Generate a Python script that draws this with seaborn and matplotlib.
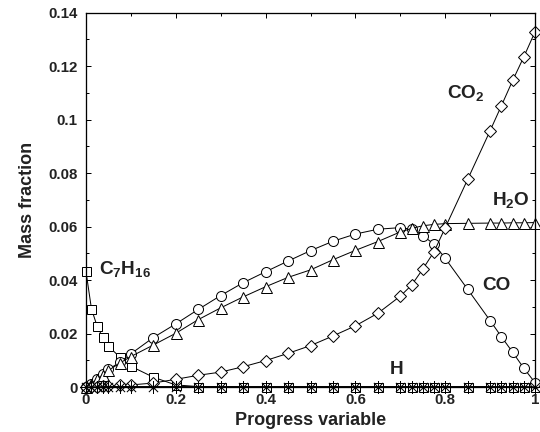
import numpy as np
import pandas as pd
import matplotlib
matplotlib.use("Agg")
import matplotlib.pyplot as plt
from matplotlib.path import Path
from matplotlib.ticker import MultipleLocator, FuncFormatter
import seaborn as sns

# Progress variable grid
progress = [0, 0.0125, 0.025, 0.0375, 0.05, 0.075, 0.1, 0.15, 0.2, 0.25, 0.3,
            0.35, 0.4, 0.45, 0.5, 0.55, 0.6, 0.65, 0.7, 0.725, 0.75, 0.775,
            0.8, 0.85, 0.9, 0.925, 0.95, 0.975, 1.0]

# Species mass fractions
c7h16 = [0.0435, 0.0292, 0.0228, 0.0186, 0.0153, 0.0113, 0.0078, 0.0037,
         0.0008, 0.0002, 0.0001, 0, 0, 0, 0, 0, 0, 0, 0, 0, 0, 0, 0, 0, 0,
         0, 0, 0, 0]
co = [0, 0.0012, 0.003, 0.0048, 0.0066, 0.0092, 0.0124, 0.0185, 0.0236,
      0.029, 0.0342, 0.039, 0.0431, 0.0471, 0.051, 0.0545, 0.0572, 0.059,
      0.0596, 0.059, 0.0566, 0.0534, 0.0481, 0.0365, 0.0248, 0.0188, 0.013,
      0.007, 0.0016]
h2o = [0, 0.0012, 0.003, 0.0045, 0.0062, 0.0089, 0.0114, 0.0157, 0.0201,
       0.0252, 0.0296, 0.0337, 0.0375, 0.041, 0.0438, 0.0476, 0.0511, 0.0544,
       0.058, 0.0593, 0.0603, 0.0608, 0.0611, 0.0612, 0.0613, 0.0613, 0.0614,
       0.0614, 0.0615]
co2 = [0, 0.0001, 0.0002, 0.0003, 0.0004, 0.0006, 0.0008, 0.0015, 0.0029,
       0.0044, 0.0056, 0.0076, 0.0099, 0.0126, 0.0155, 0.0191, 0.0229, 0.0276,
       0.034, 0.0381, 0.0441, 0.0506, 0.0596, 0.0777, 0.0959, 0.1052, 0.1146,
       0.1235, 0.1329]
h = [0, 0.0001, 0.0001, 0.0002, 0.0002, 0.0002, 0.0002, 0.0002, 0.0002,
     0.0002, 0.0002, 0.0002, 0.0002, 0.0002, 0.0002, 0.0002, 0.0002, 0.0002,
     0.0002, 0.0002, 0.0002, 0.0002, 0.0002, 0.0002, 0.0002, 0.0002, 0.0002,
     0.0002, 0.0001]

x_ticks = [0, 0.2, 0.4, 0.6, 0.8, 1.0]
y_ticks = [0, 0.02, 0.04, 0.06, 0.08, 0.10, 0.12, 0.14]

df = pd.DataFrame({"progress": progress, "C7H16": c7h16, "CO": co,
                   "H2O": h2o, "CO2": co2, "H": h})

sns.set_style("ticks")
plt.rcParams["font.family"] = ["Liberation Sans", "DejaVu Sans"]
plt.rcParams["font.weight"] = "bold"
plt.rcParams["mathtext.fontset"] = "custom"
plt.rcParams["mathtext.rm"] = "Liberation Sans:bold"
plt.rcParams["mathtext.bf"] = "Liberation Sans:bold"
plt.rcParams["mathtext.it"] = "Liberation Sans:bold"
plt.rcParams["mathtext.default"] = "bf"

fig = plt.figure(figsize=(7.5, 6), dpi=72)
ax = fig.add_axes([0.159, 0.104, 0.832, 0.867])

# eight-spoke asterisk marker
asterisk = Path(
    [(0, -1), (0, 1), (-1, 0), (1, 0), (-0.71, -0.71), (0.71, 0.71),
     (-0.71, 0.71), (0.71, -0.71)],
    [Path.MOVETO, Path.LINETO] * 4,
)

common = dict(color="black", linewidth=1.0, markerfacecolor="white",
              markeredgecolor="black", markeredgewidth=1.0, errorbar=None,
              sort=False, legend=False, ax=ax)

sns.lineplot(data=df, x="progress", y="C7H16", marker="s", markersize=9, **common)
sns.lineplot(data=df, x="progress", y="CO", marker="o", markersize=10, **common)
sns.lineplot(data=df, x="progress", y="H2O", marker="^", markersize=11, **common)
sns.lineplot(data=df, x="progress", y="CO2", marker="D", markersize=9, **common)
sns.lineplot(data=df, x="progress", y="H", marker=asterisk, markersize=13, **common)

for ln in ax.lines:
    ln.set_clip_on(False)

ax.set_xlim(0, 1)
ax.set_ylim(0, 0.14)
ax.set_xticks(x_ticks)
ax.set_yticks(y_ticks)
ax.xaxis.set_minor_locator(MultipleLocator(0.1))
ax.yaxis.set_minor_locator(MultipleLocator(0.01))
fmt = FuncFormatter(lambda v, p: f"{v:g}")
ax.xaxis.set_major_formatter(fmt)
ax.yaxis.set_major_formatter(fmt)

ax.tick_params(which="both", direction="in", top=True, right=True,
               labelsize=15, width=1.0, color="black")
ax.tick_params(which="major", length=5)
ax.tick_params(which="minor", length=3)
ax.tick_params(axis="x", pad=6)
ax.tick_params(axis="y", pad=8)
for lbl in ax.get_xticklabels() + ax.get_yticklabels():
    lbl.set_fontweight("bold")
    lbl.set_color("#222222")

for sp in ax.spines.values():
    sp.set_linewidth(1.3)
    sp.set_color("black")

ax.set_xlabel("Progress variable", fontsize=18, fontweight="bold",
              color="#222222", labelpad=5)
ax.set_ylabel("Mass fraction", fontsize=18, fontweight="bold",
              color="#222222", labelpad=12)

label_kw = dict(fontsize=19, fontweight="bold", color="#222222",
                va="center", ha="left")
ax.text(0.804, 0.110, r"CO$_{2}$", **label_kw)
ax.text(0.904, 0.070, r"H$_{2}$O", **label_kw)
ax.text(0.883, 0.038, "CO", **label_kw)
ax.text(0.676, 0.0067, "H", **label_kw)
ax.text(0.030, 0.044, r"C$_{7}$H$_{16}$", **label_kw)

fig.savefig("out.png", dpi=72)
